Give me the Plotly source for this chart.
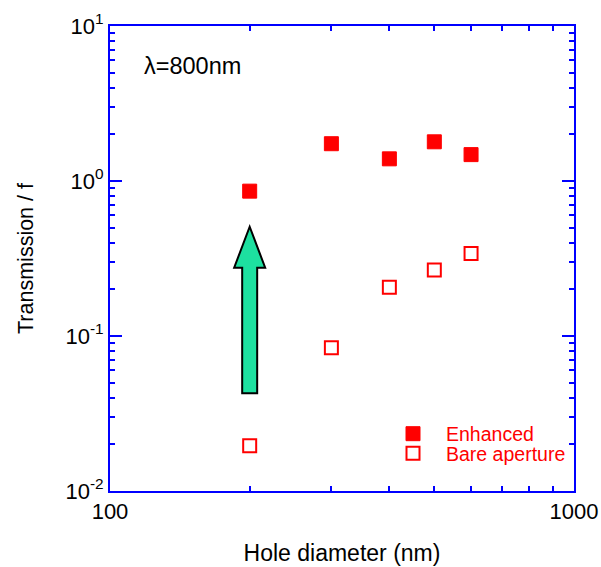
import numpy as np
import plotly.graph_objects as go

# Hole diameters (nm) and normalised transmission values
diameter = [200, 300, 400, 500, 600]
enhanced = [0.86, 1.74, 1.39, 1.79, 1.48]
bare_aperture = [0.0196, 0.084, 0.206, 0.267, 0.341]

x_tickvals = [100, 1000]
x_ticktext = ["100", "1000"]
y_tickvals = [0.01, 0.1, 1, 10]
y_ticktext = ["10<sup>-2</sup>", "10<sup>-1</sup>", "10<sup>0</sup>", "10<sup>1</sup>"]

RED = "#ff0000"
BLUE = "#0000ff"
FONT = "Liberation Sans, Arial, sans-serif"

W, H = 601, 567
ML, MR, MT, MB = 110, 27, 26, 76
PW, PH = W - ML - MR, H - MT - MB
X_RANGE = (2, 3)      # log10 of 100..1000
Y_RANGE = (-2, 1)     # log10 of 0.01..10

fig = go.Figure()
fig.add_trace(go.Scatter(
    x=diameter, y=enhanced, mode="markers", name="Enhanced", legend="legend",
    marker=dict(symbol="square", size=14, color=RED, line=dict(color=RED, width=1)),
))
fig.add_trace(go.Scatter(
    x=diameter, y=bare_aperture, mode="markers", name="Bare aperture", legend="legend2",
    marker=dict(symbol="square-open", size=13, color=RED, line=dict(color=RED, width=2)),
))


def to_paper(xv, yv, dx_px=0.0, dy_px=0.0):
    px = (np.log10(xv) - X_RANGE[0]) / (X_RANGE[1] - X_RANGE[0]) + dx_px / PW
    py = (np.log10(yv) - Y_RANGE[0]) / (Y_RANGE[1] - Y_RANGE[0]) + dy_px / PH
    return px, py


# Upward block arrow at the smallest hole diameter
arrow_x = diameter[0]
arrow_base, arrow_neck, arrow_tip = 0.0427, 0.276, 0.507
shaft_half, head_half = 7.5, 15.5
pts = [
    to_paper(arrow_x, arrow_base, -shaft_half),
    to_paper(arrow_x, arrow_neck, -shaft_half),
    to_paper(arrow_x, arrow_neck, -head_half),
    to_paper(arrow_x, arrow_tip),
    to_paper(arrow_x, arrow_neck, head_half),
    to_paper(arrow_x, arrow_neck, shaft_half),
    to_paper(arrow_x, arrow_base, shaft_half),
]
path = "M " + " L ".join(f"{a:.5f},{b:.5f}" for a, b in pts) + " Z"
fig.add_shape(type="path", path=path, xref="paper", yref="paper",
              fillcolor="#1de0a0", line=dict(color="black", width=2), layer="above")

fig.add_annotation(text="λ=800nm", xref="paper", yref="paper", x=0.069, y=0.914,
                   xanchor="left", yanchor="middle", showarrow=False,
                   font=dict(size=23.5, color="black", family=FONT))

axis_common = dict(
    type="log", showgrid=False, zeroline=False,
    showline=True, linecolor=BLUE, linewidth=2, mirror="allticks",
    ticks="inside", ticklen=12, tickwidth=2, tickcolor=BLUE,
    tickfont=dict(size=22, color="black", family=FONT),
    minor=dict(ticks="inside", ticklen=5, tickwidth=2, tickcolor=BLUE, dtick="D1"),
)

fig.update_xaxes(**axis_common, range=list(X_RANGE), tickmode="array",
                 tickvals=x_tickvals, ticktext=x_ticktext,
                 title=dict(text="Hole diameter (nm)", standoff=21,
                            font=dict(size=23, color="black", family=FONT)))
fig.update_yaxes(**axis_common, range=list(Y_RANGE), tickmode="array",
                 tickvals=y_tickvals, ticktext=y_ticktext,
                 title=dict(text="Transmission / f", standoff=26,
                            font=dict(size=21.5, color="black", family=FONT)))

legend_style = dict(xanchor="left", yanchor="middle", bgcolor="rgba(0,0,0,0)",
                    font=dict(size=19.5, color=RED, family=FONT), itemwidth=56)
legend_left = (380 - ML) / PW
fig.update_layout(
    width=W, height=H,
    margin=dict(l=ML, r=MR, t=MT, b=MB, autoexpand=False),
    plot_bgcolor="white", paper_bgcolor="white",
    font=dict(family=FONT, color="black"),
    showlegend=True,
    legend=dict(**legend_style, x=legend_left, y=(491 - 434) / PH),
    legend2=dict(**legend_style, x=legend_left, y=(491 - 453.5) / PH),
)

fig.write_html("out.html")
